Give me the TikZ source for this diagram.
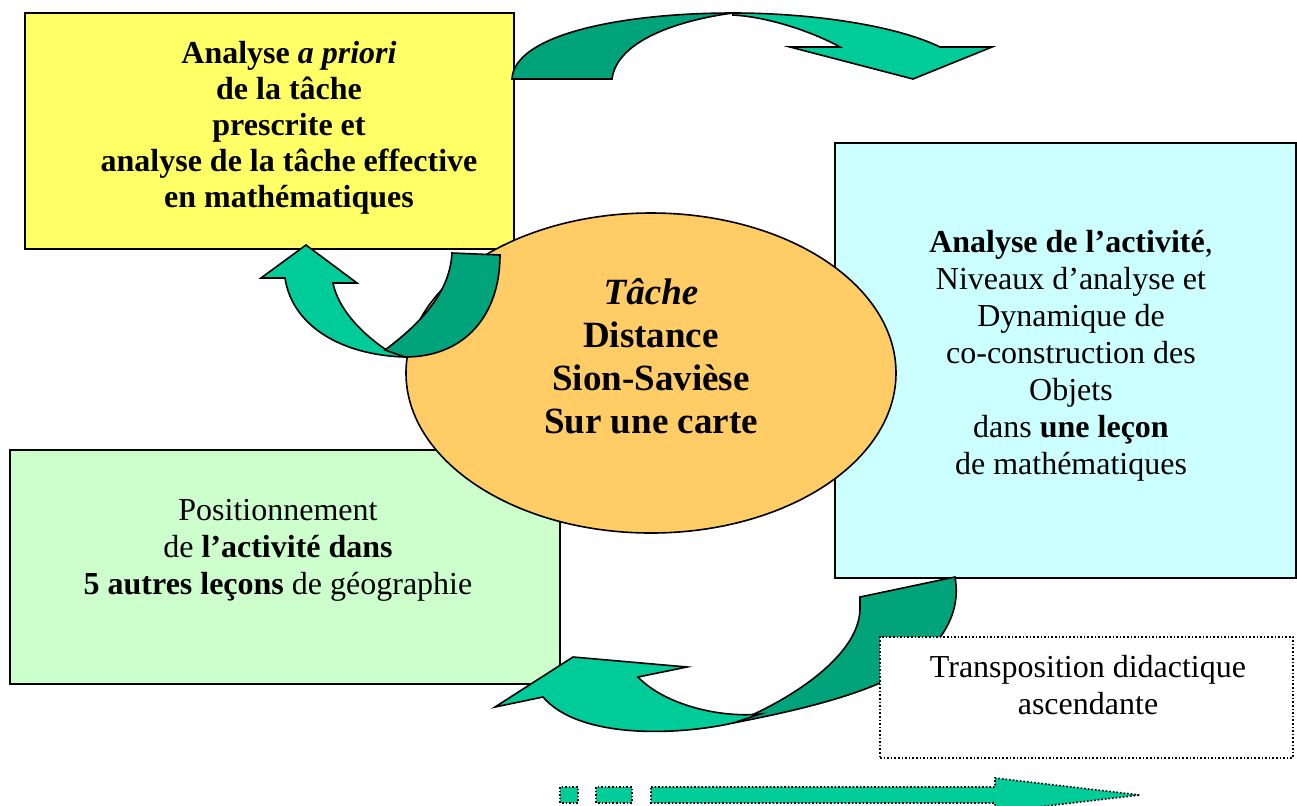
\documentclass[tikz,border=0pt]{standalone}
\usepackage{fontspec}
\setmainfont{Liberation Serif}
\usepackage{xcolor}
\usepackage{tikz}
\usetikzlibrary{shapes.geometric}

\definecolor{yellowbox}{HTML}{FFFF66}
\definecolor{cyanbox}{HTML}{CCFFFF}
\definecolor{greenbox}{HTML}{CCFFCC}
\definecolor{orangetache}{HTML}{FFCC66}
\definecolor{tealA}{HTML}{00CC99}
\definecolor{tealB}{HTML}{00A37A}

\begin{document}
\begin{tikzpicture}[x=0.5pt, y=-0.5pt,
    box/.style={draw=black, line width=1pt, inner sep=0pt},
    txt/.style={align=center, inner sep=0pt, font=\fontsize{16}{18.5}\selectfont},
    light/.style={draw=black, line width=0.8pt, fill=tealA},
    dark/.style={draw=black, line width=0.8pt, fill=tealB}]
    \useasboundingbox (0,0) rectangle (1297,805);

    \node[box, fill=yellowbox, minimum width=244.5pt, minimum height=118pt] (apriori) at (269.5,131) {};
    \node[box, fill=cyanbox, minimum width=230.5pt, minimum height=217.5pt] (activite) at (1065.5,360.5) {};
    \node[box, fill=greenbox, minimum width=275pt, minimum height=117pt] (position) at (285,567) {};
    \node[box, ellipse, fill=orangetache, line width=0.8pt, minimum width=245pt, minimum height=160pt] (tache) at (651,373) {};

    \node[txt, font=\fontsize{16}{18}\selectfont\bfseries] (apriori-t) at (289,128)
        {Analyse \textit{a priori}\\ de la tâche\\ prescrite et\\ analyse de la tâche effective\\ en mathématiques};
    \node[txt] (activite-t) at (1071,356)
        {\textbf{Analyse de l’activité},\\ Niveaux d’analyse et\\ Dynamique de\\ co-construction des\\ Objets\\ dans \textbf{une leçon}\\ de mathématiques};
    \node[txt] (position-t) at (278,550)
        {Positionnement\\ de \textbf{l’activité dans}\\ \textbf{5 autres leçons} de géographie};
    \node[txt, font=\fontsize{18.5}{21.5}\selectfont\bfseries] (tache-t) at (651,356)
        {\textit{Tâche}\\ Distance\\ Sion-Savièse\\ Sur une carte};

    % top arrow
    \draw[dark] (512,79) .. controls (514,35) and (620,13) .. (733,13)
        .. controls (680,20) and (617,40) .. (612,79) -- cycle;
    \draw[light] (733,13) .. controls (810,13) and (895,25) .. (940,47) -- (992,47) -- (913,79)
        -- (790,47) -- (840,47) .. controls (815,33) and (770,17) .. (733,15) -- cycle;

    % left arrow
    \draw[light] (285,278) .. controls (292,325) and (340,355) .. (405,357) -- (385,349)
        .. controls (360,332) and (338,308) .. (333,283) -- (357,283) -- (306,245) -- (261,278) -- cycle;
    \draw[dark] (385,350) .. controls (425,320) and (450,290) .. (452,253) -- (500,255)
        .. controls (500,315) and (465,357) .. (405,357) -- cycle;

    % bottom arrow
    \draw[dark] (860,597) -- (955,577) .. controls (960,605) and (950,630) .. (925,655)
        .. controls (890,690) and (800,710) .. (733,723)
        .. controls (780,705) and (858,660) .. (860,610) -- cycle;
    \draw[light] (760,714) -- (733,723) .. controls (680,735) and (580,740) .. (543,697)
        -- (495,707) -- (573,657) -- (687,667) -- (638,677)
        .. controls (665,705) and (720,718) .. (760,714) -- cycle;

    \node[draw=black, densely dotted, line width=0.8pt, fill=white, minimum width=206.5pt, minimum height=60.5pt] (transpo) at (1086.5,697.5) {};
    \node[txt] (transpo-t) at (1088,685.5) {Transposition didactique\\ ascendante};

    % dotted arrow at the bottom
    \draw[light, densely dotted] (560,787) rectangle (578,803);
    \draw[light, densely dotted] (596,787) rectangle (632,803);
    \draw[light, densely dotted] (651,787) -- (995,787) -- (995,778) -- (1140,795) -- (995,812)
        -- (995,803) -- (651,803) -- cycle;
\end{tikzpicture}
\end{document}
